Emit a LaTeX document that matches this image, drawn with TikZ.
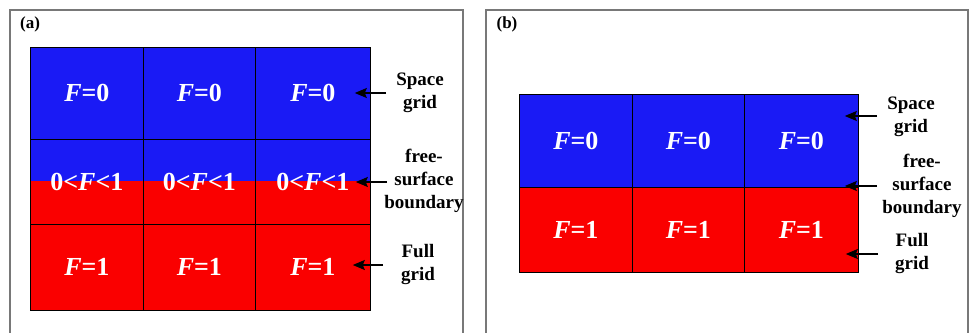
\documentclass[tikz,border=0pt]{standalone}
\usepackage{fontspec}
\setmainfont{Liberation Serif}
\usetikzlibrary{arrows.meta}
\definecolor{vofblue}{RGB}{26,26,245}
\definecolor{vofred}{RGB}{250,0,0}
\definecolor{framegray}{RGB}{120,120,120}

\begin{document}
\begin{tikzpicture}[x=1pt, y=-1pt,
    cell/.style={draw=black, line width=0.8pt, text=white, inner sep=0pt, anchor=north west,
        font=\fontsize{26}{30}\selectfont\bfseries},
    mixed/.style={path picture={\fill[vofblue] (path picture bounding box.north west)
        rectangle ([yshift=-#1]path picture bounding box.north east);}},
    lab/.style={font=\fontsize{19}{23}\selectfont\bfseries, align=center, inner sep=0pt},
    tag/.style={font=\fontsize{17}{20}\selectfont\bfseries, inner sep=0pt},
    panel/.style={draw=framegray, line width=1.3pt},
    ptr/.style={-{Stealth[length=12pt,width=10pt,inset=2pt]}, line width=1.2pt},
    >=Stealth
]
\useasboundingbox (0,0) rectangle (969,332);
\clip (0,0) rectangle (969,332);

% panel frames
\draw[panel] (10,10) rectangle (463,350);
\draw[panel] (486,10) rectangle (968,350);
\node[tag] (a-tag) at (30,24) {(a)};
\node[tag] (b-tag) at (507,24) {(b)};

% (a) grid with a free-surface row
\foreach \c/\x/\w in {1/30/113, 2/143/112, 3/255/115} {
    \node[cell, fill=vofblue, minimum width=\w pt, minimum height=92pt] (a-1\c) at (\x,47) {\textit{F}=0};
    \node[cell, fill=vofred, mixed=42pt, minimum width=\w pt, minimum height=85pt] (a-2\c) at (\x,139) {0<\textit{F}<1};
    \node[cell, fill=vofred, minimum width=\w pt, minimum height=86pt] (a-3\c) at (\x,224) {\textit{F}=1};
}

\node[lab] (a-sg) at (420,93) {Space\\grid};
\node[lab] (a-fs) at (424,181) {free-\\surface\\boundary};
\node[lab] (a-fg) at (418,265) {Full\\grid};

\coordinate (a-sg-tail) at (386,93);
\coordinate (a-fs-tail) at (387,182);
\coordinate (a-fg-tail) at (383,265);
\draw[ptr] (a-sg-tail) -- ([xshift=-16pt]a-13.east |- a-sg-tail);
\draw[ptr] (a-fs-tail) -- ([xshift=-15pt]a-23.east |- a-fs-tail);
\draw[ptr] (a-fg-tail) -- ([xshift=-18pt]a-33.east |- a-fg-tail);

% (b) grid with a sharp interface
\foreach \c/\x/\w in {1/519/113, 2/632/112, 3/744/114} {
    \node[cell, fill=vofblue, minimum width=\w pt, minimum height=93pt] (b-1\c) at (\x,94) {\textit{F}=0};
    \node[cell, fill=vofred, minimum width=\w pt, minimum height=85pt] (b-2\c) at (\x,187) {\textit{F}=1};
}

\node[lab] (b-sg) at (911,117) {Space\\grid};
\node[lab] (b-fs) at (922,186) {free-\\surface\\boundary};
\node[lab] (b-fg) at (912,254) {Full\\grid};

\coordinate (b-sg-tail) at (877,116);
\coordinate (b-fs-tail) at (877,186);
\coordinate (b-fg-tail) at (878,254);
\draw[ptr] (b-sg-tail) -- ([xshift=-14pt]b-13.east |- b-sg-tail);
\draw[ptr] (b-fs-tail) -- ([xshift=-14pt]b-23.east |- b-fs-tail);
\draw[ptr] (b-fg-tail) -- ([xshift=-13pt]b-23.east |- b-fg-tail);

\end{tikzpicture}
\end{document}
